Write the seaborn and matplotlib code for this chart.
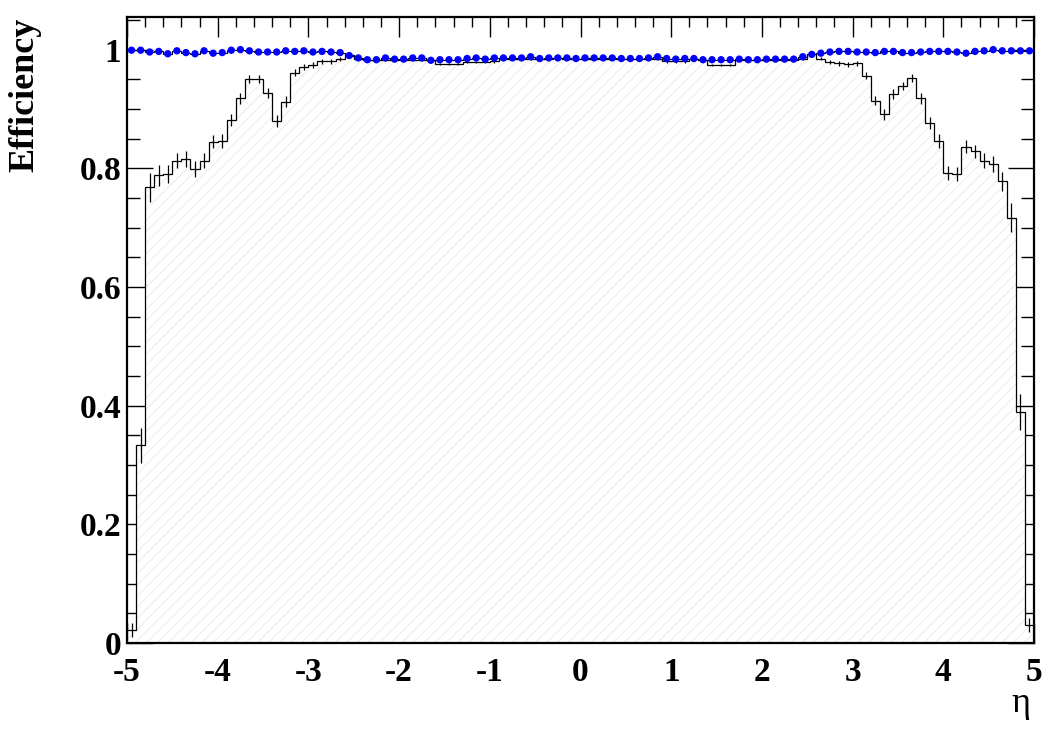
import numpy as np
import matplotlib
matplotlib.use("Agg")
import matplotlib.pyplot as plt
from matplotlib.ticker import MultipleLocator, FuncFormatter
import seaborn as sns

# ==========================================
# Data (100 bins in eta)
# ==========================================

eta_edges = np.linspace(-5, 5, 101)

eff_hist = [
    0.022, 0.333, 0.768, 0.788, 0.790, 0.813, 0.816, 0.799, 0.813, 0.845,
    0.846, 0.881, 0.918, 0.950, 0.951, 0.927, 0.879, 0.912, 0.961, 0.971,
    0.974, 0.980, 0.980, 0.984, 0.991, 0.985, 0.983, 0.983, 0.983, 0.983,
    0.983, 0.983, 0.983, 0.983, 0.976, 0.976, 0.976, 0.979, 0.979, 0.979,
    0.980, 0.984, 0.985, 0.985, 0.984, 0.985, 0.985, 0.986, 0.985, 0.985,
    0.985, 0.985, 0.985, 0.985, 0.984, 0.984, 0.985, 0.985, 0.985, 0.980,
    0.980, 0.980, 0.984, 0.983, 0.974, 0.974, 0.974, 0.982, 0.982, 0.983,
    0.983, 0.983, 0.983, 0.983, 0.985, 0.993, 0.985, 0.979, 0.977, 0.975,
    0.977, 0.956, 0.914, 0.891, 0.925, 0.939, 0.952, 0.918, 0.876, 0.846,
    0.792, 0.791, 0.836, 0.829, 0.813, 0.807, 0.778, 0.717, 0.389, 0.030,
]

err_hist = [
    0.012, 0.030, 0.024, 0.018, 0.015, 0.013, 0.013, 0.013, 0.012, 0.011,
    0.011, 0.010, 0.009, 0.007, 0.007, 0.008, 0.010, 0.009, 0.006, 0.005,
    0.005, 0.004, 0.004, 0.003, 0.002, 0.002, 0.002, 0.002, 0.002, 0.002,
    0.002, 0.002, 0.002, 0.002, 0.002, 0.002, 0.002, 0.002, 0.002, 0.002,
    0.002, 0.002, 0.002, 0.002, 0.002, 0.002, 0.002, 0.002, 0.002, 0.002,
    0.002, 0.002, 0.002, 0.002, 0.002, 0.002, 0.002, 0.002, 0.002, 0.002,
    0.002, 0.002, 0.002, 0.002, 0.002, 0.002, 0.002, 0.002, 0.002, 0.002,
    0.002, 0.002, 0.002, 0.002, 0.002, 0.002, 0.003, 0.004, 0.004, 0.004,
    0.004, 0.006, 0.008, 0.009, 0.008, 0.007, 0.007, 0.009, 0.010, 0.011,
    0.012, 0.012, 0.011, 0.011, 0.012, 0.013, 0.016, 0.025, 0.030, 0.012,
]

eff_blue = [
    0.999, 0.999, 0.996, 0.997, 0.993, 0.998, 0.995, 0.993, 0.998, 0.994,
    0.995, 0.999, 1.000, 0.998, 0.996, 0.996, 0.996, 0.998, 0.997, 0.998,
    0.996, 0.997, 0.996, 0.995, 0.990, 0.986, 0.983, 0.983, 0.986, 0.984,
    0.984, 0.986, 0.986, 0.982, 0.983, 0.983, 0.983, 0.985, 0.986, 0.984,
    0.986, 0.986, 0.986, 0.986, 0.988, 0.985, 0.986, 0.986, 0.986, 0.985,
    0.986, 0.986, 0.986, 0.986, 0.985, 0.985, 0.985, 0.986, 0.988, 0.985,
    0.984, 0.985, 0.985, 0.983, 0.983, 0.983, 0.983, 0.984, 0.983, 0.983,
    0.984, 0.984, 0.984, 0.984, 0.988, 0.992, 0.994, 0.996, 0.997, 0.997,
    0.996, 0.996, 0.995, 0.997, 0.997, 0.995, 0.995, 0.996, 0.997, 0.997,
    0.997, 0.996, 0.994, 0.997, 0.998, 1.000, 0.998, 0.998, 0.998, 0.998,
]

eta_centers = 0.5 * (eta_edges[:-1] + eta_edges[1:])

# ==========================================
# Style
# ==========================================

sns.set_theme(style="ticks")
plt.rcParams["font.family"] = ["Liberation Serif", "DejaVu Serif"]
plt.rcParams["axes.unicode_minus"] = False
plt.rcParams["hatch.linewidth"] = 0.8

fig = plt.figure(figsize=(10.6, 7.29), dpi=100)
ax = fig.add_axes([0.1198, 0.118, 0.8557, 0.8587])

# ==========================================
# Histogram with hatched fill + error bars
# ==========================================

ax.stairs(eff_hist, eta_edges, fill=True, facecolor="white",
          edgecolor="#eeeeee", hatch="///", linewidth=0, zorder=1)
ax.stairs(eff_hist, eta_edges, color="black", linewidth=0.9, zorder=2)
ax.errorbar(eta_centers, eff_hist, yerr=err_hist, fmt="none",
            ecolor="black", elinewidth=0.9, zorder=2)

# second series: thin black line + blue markers
ax.stairs(eff_blue, eta_edges, color="black", linewidth=0.8,
          baseline=None, zorder=3)
sns.scatterplot(x=eta_centers, y=eff_blue, color="#0000ff", s=28,
                edgecolor="none", ax=ax, zorder=4)

# ==========================================
# Axes
# ==========================================

ax.set_xlim(-5, 5)
ax.set_ylim(0, 1.055)

ax.xaxis.set_major_locator(MultipleLocator(1))
ax.xaxis.set_minor_locator(MultipleLocator(0.2))
ax.yaxis.set_major_locator(MultipleLocator(0.2))
ax.yaxis.set_minor_locator(MultipleLocator(0.05))
fmt = FuncFormatter(lambda v, p: "%g" % round(v, 2))
ax.xaxis.set_major_formatter(fmt)
ax.yaxis.set_major_formatter(fmt)

ax.tick_params(axis="both", which="both", direction="in",
               top=True, right=True, width=1.0, color="black")
ax.tick_params(axis="x", which="major", length=14.5, pad=10)
ax.tick_params(axis="x", which="minor", length=7.2)
ax.tick_params(axis="y", which="major", length=18.5, pad=4)
ax.tick_params(axis="y", which="minor", length=9.4)

for lab in ax.get_xticklabels() + ax.get_yticklabels():
    lab.set_fontsize(24)
    lab.set_fontweight("bold")
    lab.set_color("black")

for sp in ax.spines.values():
    sp.set_linewidth(1.6)
    sp.set_color("black")

ax.set_xlabel("")
ax.set_ylabel("")

fig.text(25 / 1060, 1 - 18 / 729, "Efficiency", rotation=90,
         ha="center", va="top", fontsize=26, fontweight="bold",
         color="black")
fig.text(1021 / 1060, 1 - 704 / 729, "η", ha="center", va="center",
         fontsize=26, color="black")

fig.savefig("out.png", dpi=100, facecolor="white")
